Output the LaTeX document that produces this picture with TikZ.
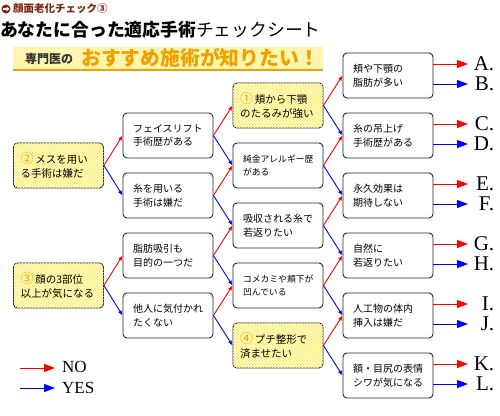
\documentclass[tikz,border=0pt]{standalone}
\usepackage{fontspec}
\setmainfont{Noto Sans CJK JP}
\newfontfamily\latinrm{Liberation Serif}
\usetikzlibrary{arrows.meta,positioning,patterns,calc}
\definecolor{cNo}{HTML}{FF0000}
\definecolor{cYes}{HTML}{0000FF}
\definecolor{cQ}{HTML}{FFF27A}
\definecolor{cNum}{HTML}{F0A000}
\definecolor{cHead}{HTML}{7B2418}
\definecolor{cBan}{HTML}{FFF8C8}
\definecolor{cBanLine}{HTML}{F5A000}
\newcommand{\cnum}[1]{{\fontsize{13}{13}\selectfont\color{cNum}#1}}

\begin{document}
\begin{tikzpicture}[
  x=1pt, y=-1pt,
  font=\fontsize{10}{13.5}\selectfont,
  box/.style={draw=black!85, rounded corners=4pt, fill=white, line width=0.9pt,
              minimum width=90pt, minimum height=45pt, text width=70pt,
              align=left, inner sep=0pt},
  qbox/.style={box, fill=cQ, postaction={pattern=north east lines, pattern color=white},
               text width=76pt, font=\fontsize{10.5}{13.5}\selectfont},
  noarr/.style={-{Latex[length=5pt,width=4pt]}, draw=cNo, line width=0.9pt},
  yesarr/.style={-{Latex[length=5pt,width=4pt]}, draw=cYes, line width=0.9pt},
  noout/.style={-{Triangle[length=11pt,width=8pt]}, draw=cNo, fill=cNo, line width=0.9pt},
  yesout/.style={-{Triangle[length=11pt,width=8pt]}, draw=cYes, fill=cYes, line width=0.9pt},
  ans/.style={font=\latinrm\fontsize{21}{21}\selectfont, text width=26pt, align=right,
              inner sep=0pt, anchor=west},
]
\useasboundingbox (0,0) rectangle (500,415);

% ---------------- heading ----------------
\fill[cHead] (6,9) circle (4.5);
\draw[white, line width=1.1pt, -{Triangle[length=3pt,width=4.5pt]}] (3,9) -- (9.5,9);
\node (sub) [anchor=west, inner sep=0pt, text=cHead, font=\bfseries\fontsize{10.5}{11}\selectfont]
  at (13,9) {顔面老化チェック③};
\node (title) [anchor=west, inner sep=0pt, font=\fontsize{17.8}{18}\selectfont]
  at (0,30) {\textbf{あなたに合った適応手術}チェックシート};

% banner
\fill[cBan] (13,47) rectangle (323,70);
\fill[pattern=north east lines, pattern color=cQ] (13,47) rectangle (323,70);
\draw[cBanLine, line width=1.3pt] (13,70) -- (323,70);
\node (expert) [anchor=west, inner sep=0pt, text=black!80, font=\bfseries\fontsize{12}{12}\selectfont]
  at (25,59) {専門医の};
\node (wish) [anchor=west, inner sep=0pt, text=cNum, font=\bfseries\fontsize{19.8}{20}\selectfont]
  at (81,58) {おすすめ施術が知りたい！};

% ---------------- column 1 ----------------
\node (q2) [qbox] at (58.5,165.5) {\cnum{②}\,メスを用い\\る手術は嫌だ};
\node (q3) [qbox] at (58.5,285.5) {\cnum{③}\,顔の3部位\\以上が気になる};

% ---------------- column 2 ----------------
\node (lift)   [box] at (168,135.5) {フェイスリフト\\手術歴がある};
\node (thread) [box] at (168,195.5) {糸を用いる\\手術は嫌だ};
\node (lipo)   [box] at (168,255.5) {脂肪吸引も\\目的の一つだ};
\node (hide)   [box] at (168,315.5) {他人に気付かれ\\たくない};

% ---------------- column 3 ----------------
\node (q1)     [qbox] at (278,105.5) {\cnum{①}\,頬から下顎\\のたるみが強い};
\node (gold)   [box, font=\fontsize{8.8}{13.5}\selectfont] at (278,165.5) {純金アレルギー歴\\がある};
\node (absorb) [box] at (278,225.5) {吸収される糸で\\若返りたい};
\node (temple) [box, font=\fontsize{8.8}{13.5}\selectfont] at (278,285.5) {コメカミや頬下が\\凹んでいる};
\node (q4)     [qbox] at (278,345.5) {\cnum{④}\,プチ整形で\\済ませたい};

% ---------------- column 4 ----------------
\node (fat)     [box] at (388,75.5)  {頬や下顎の\\脂肪が多い};
\node (liftup)  [box] at (388,135.5) {糸の吊上げ\\手術歴がある};
\node (lasting) [box] at (388,195.5) {永久効果は\\期待しない};
\node (natural) [box] at (388,255.5) {自然に\\若返りたい};
\node (implant) [box] at (388,315.5) {人工物の体内\\挿入は嫌だ};
\node (wrinkle) [box] at (388,375.5) {額・目尻の表情\\シワが気になる};

% ---------------- answers ----------------
\node (ansA) [ans] at (468,64)  {A.};
\node (ansB) [ans] at (468,84)  {B.};
\node (ansC) [ans] at (468,124) {C.};
\node (ansD) [ans] at (468,144) {D.};
\node (ansE) [ans] at (468,184) {E.};
\node (ansF) [ans] at (468,204) {F.};
\node (ansG) [ans] at (468,244) {G.};
\node (ansH) [ans] at (468,264) {H.};
\node (ansI) [ans] at (468,304) {I.};
\node (ansJ) [ans] at (468,324) {J.};
\node (ansK) [ans] at (468,364) {K.};
\node (ansL) [ans] at (468,384) {L.};

% ---------------- branches ----------------
\draw[noarr]  (q2.east) -- (lift.west);
\draw[yesarr] (q2.east) -- (thread.west);
\draw[noarr]  (q3.east) -- (lipo.west);
\draw[yesarr] (q3.east) -- (hide.west);

\draw[noarr]  (lift.east) -- (q1.west);
\draw[yesarr] (lift.east) -- (gold.west);
\draw[noarr]  (thread.east) -- (gold.west);
\draw[yesarr] (thread.east) -- (absorb.west);
\draw[noarr]  (lipo.east) -- (absorb.west);
\draw[yesarr] (lipo.east) -- (temple.west);
\draw[noarr]  (hide.east) -- (temple.west);
\draw[yesarr] (hide.east) -- (q4.west);

\draw[noarr]  (q1.east) -- (fat.west);
\draw[yesarr] (q1.east) -- (liftup.west);
\draw[noarr]  (gold.east) -- (liftup.west);
\draw[yesarr] (gold.east) -- (lasting.west);
\draw[noarr]  (absorb.east) -- (lasting.west);
\draw[yesarr] (absorb.east) -- (natural.west);
\draw[noarr]  (temple.east) -- (natural.west);
\draw[yesarr] (temple.east) -- (implant.west);
\draw[noarr]  (q4.east) -- (implant.west);
\draw[yesarr] (q4.east) -- (wrinkle.west);

% to the answers
\draw[noout]  (fat.east |- ansA.west) -- (ansA.west);
\draw[yesout] (fat.east |- ansB.west) -- (ansB.west);
\draw[noout]  (liftup.east |- ansC.west) -- (ansC.west);
\draw[yesout] (liftup.east |- ansD.west) -- (ansD.west);
\draw[noout]  (lasting.east |- ansE.west) -- (ansE.west);
\draw[yesout] (lasting.east |- ansF.west) -- (ansF.west);
\draw[noout]  (natural.east |- ansG.west) -- (ansG.west);
\draw[yesout] (natural.east |- ansH.west) -- (ansH.west);
\draw[noout]  (implant.east |- ansI.west) -- (ansI.west);
\draw[yesout] (implant.east |- ansJ.west) -- (ansJ.west);
\draw[noout]  (wrinkle.east |- ansK.west) -- (ansK.west);
\draw[yesout] (wrinkle.east |- ansL.west) -- (ansL.west);

% ---------------- legend ----------------
\node (lno)  [anchor=west, inner sep=0pt, font=\latinrm\fontsize{17}{17}\selectfont] at (62,367) {NO};
\node (lyes) [anchor=west, inner sep=0pt, font=\latinrm\fontsize{17}{17}\selectfont] at (62,388) {YES};
\coordinate (lgno)  at (20,368);
\coordinate (lgyes) at (20,388);
\draw[noout]  (lgno)  -- ([xshift=-7pt]lno.west |- lgno);
\draw[yesout] (lgyes) -- ([xshift=-7pt]lyes.west |- lgyes);

\end{tikzpicture}
\end{document}
